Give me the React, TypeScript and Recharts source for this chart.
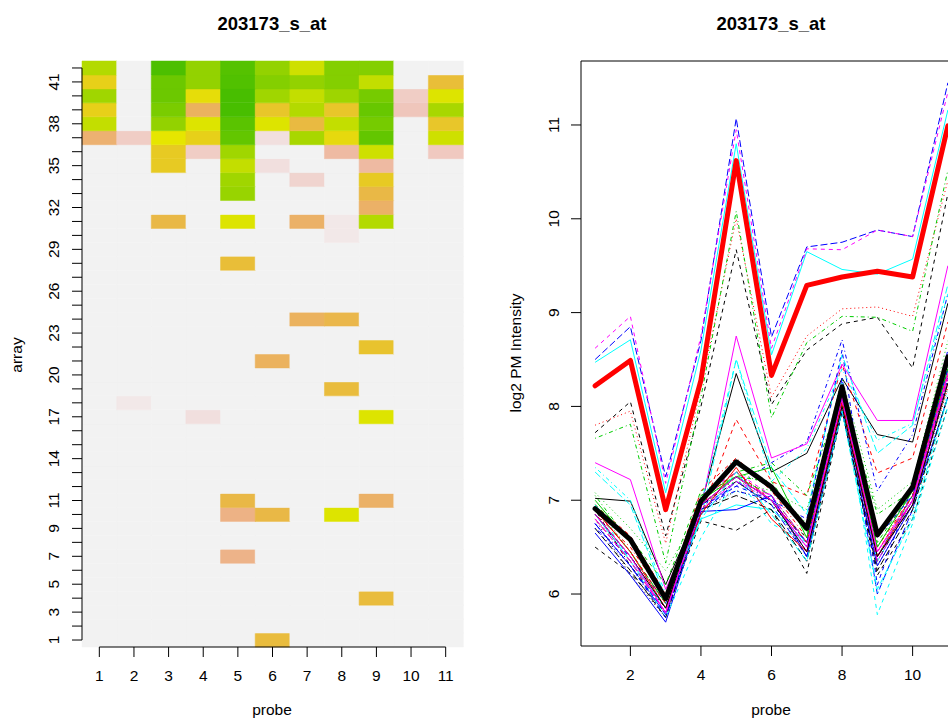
import React from 'react';
import {
  BarChart,
  Bar,
  Cell,
  XAxis,
  YAxis,
  ReferenceLine,
  LineChart,
  Line,
  ReferenceArea
} from 'recharts';

const chartTitle = '203173_s_at';
const probes = [1, 2, 3, 4, 5, 6, 7, 8, 9, 10, 11];
const arrayIds = [
  1, 2, 3, 4, 5, 6, 7, 8, 9, 10, 11, 12, 13, 14, 15, 16, 17, 18, 19, 20, 21,
  22, 23, 24, 25, 26, 27, 28, 29, 30, 31, 32, 33, 34, 35, 36, 37, 38, 39, 40, 41, 42
];
const arrayTickLabels = [1, 3, 5, 7, 9, 11, 14, 17, 20, 23, 26, 29, 32, 35, 38, 41];
const intensityTicks = [6, 7, 8, 9, 10, 11];
const probeTicks = [2, 4, 6, 8, 10];

// heatmap cell values (0 = green end of terrain colours, 1 = light grey), arrays 1..42 per probe
const heatProbe1 = [1, 1, 1, 1, 1, 1, 1, 1, 1, 1, 1, 1, 1, 1, 1, 1, 1, 1, 1, 1, 1, 1, 1, 1, 1, 1, 1, 1, 1, 1, 1, 1, 1, 1, 1, 1, 0.74, 0.44, 0.555, 0.375, 0.555, 0.41];
const heatProbe2 = [1, 1, 1, 1, 1, 1, 1, 1, 1, 1, 1, 1, 1, 1, 1, 1, 1, 0.98, 1, 1, 1, 1, 1, 1, 1, 1, 1, 1, 1, 1, 1, 1, 1, 1, 1, 1, 0.91, 1, 1, 1, 1, 1];
const heatProbe3 = [1, 1, 1, 1, 1, 1, 1, 1, 1, 1, 1, 1, 1, 1, 1, 1, 1, 1, 1, 1, 1, 1, 1, 1, 1, 1, 1, 1, 1, 1, 0.65, 1, 1, 1, 0.575, 0.575, 0.5, 0.35, 0.3, 0.27, 0.27, 0.2];
const heatProbe4 = [1, 1, 1, 1, 1, 1, 1, 1, 1, 1, 1, 1, 1, 1, 1, 1, 0.96, 1, 1, 1, 1, 1, 1, 1, 1, 1, 1, 1, 1, 1, 1, 1, 1, 1, 1, 0.91, 0.555, 0.485, 0.7, 0.52, 0.35, 0.35];
const heatProbe5 = [1, 1, 1, 1, 1, 1, 0.79, 1, 1, 0.78, 0.65, 1, 1, 1, 1, 1, 1, 1, 1, 1, 1, 1, 1, 1, 1, 1, 1, 0.62, 1, 1, 0.485, 1, 0.36, 0.375, 0.44, 0.375, 0.25, 0.23, 0.19, 0.19, 0.21, 0.22];
const heatProbe6 = [0.63, 1, 1, 1, 1, 1, 1, 1, 1, 0.65, 1, 1, 1, 1, 1, 1, 1, 1, 1, 1, 0.7, 1, 1, 1, 1, 1, 1, 1, 1, 1, 1, 1, 1, 1, 0.96, 1, 0.96, 0.485, 0.59, 0.375, 0.32, 0.35];
const heatProbe7 = [1, 1, 1, 1, 1, 1, 1, 1, 1, 1, 1, 1, 1, 1, 1, 1, 1, 1, 1, 1, 1, 1, 1, 0.7, 1, 1, 1, 1, 1, 1, 0.72, 1, 1, 0.93, 1, 1, 0.39, 0.64, 0.41, 0.44, 0.35, 0.46];
const heatProbe8 = [1, 1, 1, 1, 1, 1, 1, 1, 1, 0.485, 1, 1, 1, 1, 1, 1, 1, 1, 0.63, 1, 1, 1, 1, 0.66, 1, 1, 1, 1, 1, 0.98, 0.98, 1, 1, 1, 1, 0.84, 0.53, 0.44, 0.59, 0.37, 0.32, 0.32];
const heatProbe9 = [1, 1, 1, 0.63, 1, 1, 1, 1, 1, 1, 0.72, 1, 1, 1, 1, 1, 0.485, 1, 1, 1, 1, 0.6, 1, 1, 1, 1, 1, 1, 1, 1, 0.41, 0.72, 0.65, 0.575, 0.84, 0.46, 0.25, 0.29, 0.26, 0.29, 0.44, 0.32];
const heatProbe10 = [1, 1, 1, 1, 1, 1, 1, 1, 1, 1, 1, 1, 1, 1, 1, 1, 1, 1, 1, 1, 1, 1, 1, 1, 1, 1, 1, 1, 1, 1, 1, 1, 1, 1, 1, 1, 1, 1, 0.89, 0.91, 1, 1];
const heatProbe11 = [1, 1, 1, 1, 1, 1, 1, 1, 1, 1, 1, 1, 1, 1, 1, 1, 1, 1, 1, 1, 1, 1, 1, 1, 1, 1, 1, 1, 1, 1, 1, 1, 1, 1, 1, 0.9, 0.46, 0.59, 0.39, 0.485, 0.62, 1];
const heatByProbe = [heatProbe1, heatProbe2, heatProbe3, heatProbe4, heatProbe5, heatProbe6, heatProbe7, heatProbe8, heatProbe9, heatProbe10, heatProbe11];

// log2 PM intensity per array, probes 1..11
const lowArrays = [
  [7.02, 6.99, 6.10, 6.95, 8.35, 7.30, 7.50, 8.30, 7.70, 7.62, 9.10],
  [6.95, 6.62, 6.00, 6.85, 7.86, 7.20, 7.05, 8.45, 7.29, 7.45, 8.90],
  [7.08, 6.70, 6.25, 6.90, 7.30, 7.15, 6.75, 8.30, 6.90, 7.20, 8.70],
  [6.70, 6.40, 5.90, 6.95, 7.15, 7.40, 7.62, 8.71, 7.10, 7.70, 9.20],
  [7.30, 6.95, 5.95, 6.80, 8.50, 7.35, 6.85, 8.55, 7.50, 7.80, 9.30],
  [7.40, 7.22, 6.05, 6.90, 8.75, 7.45, 7.60, 8.45, 7.85, 7.85, 9.50],
  [6.50, 6.22, 5.80, 6.78, 6.68, 6.90, 6.22, 7.95, 6.20, 6.80, 8.00],
  [6.80, 6.40, 5.85, 7.00, 7.25, 7.00, 6.50, 8.00, 6.40, 7.00, 8.20],
  [7.05, 6.55, 5.95, 7.00, 7.30, 7.40, 7.05, 8.15, 6.85, 7.10, 8.50],
  [6.75, 6.30, 5.78, 6.85, 7.20, 6.95, 6.40, 8.30, 6.00, 6.90, 8.30],
  [6.85, 6.35, 5.85, 6.80, 6.95, 6.90, 6.55, 8.05, 6.35, 7.00, 8.40],
  [6.90, 6.45, 5.90, 7.05, 7.30, 7.05, 6.45, 8.10, 6.45, 7.05, 8.45],
  [6.80, 6.20, 5.75, 6.90, 7.10, 7.00, 6.40, 8.00, 6.30, 6.95, 8.20],
  [6.85, 6.50, 5.95, 7.10, 7.45, 7.10, 6.60, 8.10, 6.50, 7.05, 8.35],
  [6.90, 6.45, 5.90, 7.05, 7.25, 7.05, 6.55, 8.05, 6.40, 7.05, 8.40],
  [6.65, 6.20, 5.70, 6.88, 6.90, 7.05, 6.40, 7.95, 6.30, 6.95, 8.10],
  [6.95, 6.35, 5.75, 6.60, 7.25, 6.75, 6.55, 8.25, 5.78, 6.75, 8.00],
  [6.80, 6.40, 5.80, 6.95, 7.20, 7.00, 6.50, 8.10, 6.45, 7.00, 8.30],
  [6.90, 6.30, 5.85, 6.95, 7.20, 6.95, 6.60, 8.05, 6.35, 7.00, 8.30],
  [6.80, 6.35, 5.80, 6.95, 7.25, 7.00, 6.55, 8.00, 6.40, 6.95, 8.25],
  [7.00, 6.55, 5.95, 7.00, 7.25, 7.35, 6.60, 8.15, 6.50, 7.10, 8.40],
  [6.75, 6.30, 5.80, 6.90, 7.15, 7.00, 6.80, 8.60, 6.10, 7.15, 8.60],
  [6.80, 6.40, 5.75, 6.85, 7.10, 6.95, 6.50, 8.00, 6.00, 6.85, 8.15],
  [6.85, 6.40, 5.80, 7.00, 7.30, 7.00, 6.45, 8.05, 6.40, 7.05, 8.35],
  [6.70, 6.25, 5.75, 6.90, 7.05, 6.90, 6.35, 7.95, 6.25, 6.90, 8.10],
  [6.90, 6.45, 5.85, 6.85, 7.35, 6.80, 6.45, 8.05, 6.40, 7.00, 8.35],
  [6.95, 6.60, 6.10, 7.10, 7.25, 7.20, 6.65, 8.15, 6.55, 7.10, 8.45],
  [6.70, 6.30, 5.80, 6.90, 7.20, 7.00, 6.50, 8.10, 6.40, 7.00, 8.30],
  [7.35, 7.00, 6.00, 6.95, 8.50, 7.20, 7.55, 8.40, 7.64, 7.82, 9.20],
  [6.80, 6.35, 5.80, 6.90, 7.20, 7.05, 6.55, 8.05, 6.35, 7.00, 8.30],
  [6.85, 6.40, 5.85, 6.95, 7.25, 7.00, 6.45, 8.00, 6.40, 6.95, 8.25],
  [6.90, 6.45, 5.90, 7.00, 7.30, 7.00, 6.55, 8.05, 6.45, 7.05, 8.35],
  [6.95, 6.45, 5.90, 7.05, 7.20, 7.10, 6.90, 8.15, 6.50, 7.10, 8.45],
  [6.75, 6.30, 5.75, 6.95, 7.10, 7.00, 6.55, 8.10, 6.60, 7.05, 8.40],
  [6.95, 6.55, 5.95, 6.80, 7.30, 6.85, 6.35, 7.95, 6.05, 6.80, 8.10],
  [6.85, 6.40, 5.80, 6.95, 7.25, 7.00, 6.50, 8.10, 6.45, 7.00, 8.35]
];
const highArrays = [
  [7.72, 8.05, 6.62, 8.00, 9.67, 8.02, 8.60, 8.88, 8.95, 8.41, 10.27],
  [7.80, 7.95, 6.54, 8.20, 10.00, 8.10, 8.75, 9.04, 9.06, 8.96, 10.41],
  [7.66, 7.81, 6.33, 8.10, 10.08, 7.88, 8.68, 8.96, 8.95, 8.80, 10.52],
  [8.50, 8.85, 7.25, 8.70, 11.07, 8.74, 9.70, 9.75, 9.88, 9.81, 11.45],
  [8.47, 8.71, 7.08, 8.60, 10.80, 8.55, 9.65, 9.46, 9.41, 9.57, 11.16],
  [8.62, 8.96, 7.18, 8.75, 10.95, 8.62, 9.68, 9.67, 9.88, 9.81, 11.35]
];
const highGroupLine = [8.22, 8.49, 6.90, 8.28, 10.62, 8.33, 9.29, 9.38, 9.44, 9.38, 10.99];
const lowGroupLine = [6.91, 6.58, 5.95, 6.99, 7.41, 7.14, 6.70, 8.21, 6.63, 7.14, 8.53];

const rColors = ['#000000', '#FF0000', '#00CD00', '#0000FF', '#00FFFF', '#FF00FF'];
const rDashes = [undefined, '4 4', '1 3', '1 3 4 3', '7 3'];

const font = '"Liberation Sans", Arial, Helvetica, sans-serif';
const labelSize = 15.5;

const hsv = (h: number, s: number, v: number) => {
  const c = v * s;
  const hp = h / 60;
  const x = c * (1 - Math.abs((hp % 2) - 1));
  let r = 0, g = 0, b = 0;
  if (hp < 1) { r = c; g = x; }
  else if (hp < 2) { r = x; g = c; }
  else { g = c; b = x; }
  const m = v - c;
  const hex = (n: number) => Math.round((n + m) * 255).toString(16).padStart(2, '0');
  return `#${hex(r)}${hex(g)}${hex(b)}`;
};

// R terrain.colors as a continuous scale
const terrain = (t: number) => {
  if (t <= 0.5) {
    const f = t / 0.5;
    return hsv(120 - 60 * f, 1, 0.65 + 0.25 * f);
  }
  const f = (t - 0.5) / 0.5;
  return hsv(60 - 60 * f, 1 - f, 0.9 + 0.05 * f);
};

const heatData = probes.map((p) => {
  const row: any = { probe: String(p) };
  arrayIds.forEach((a) => { row[`a${a}`] = 1; });
  return row;
});

const allArrays = [...lowArrays, ...highArrays];
const lineData = probes.map((p, j) => {
  const row: any = { probe: p, hiMean: highGroupLine[j], loMean: lowGroupLine[j] };
  allArrays.forEach((vals, i) => { row[`a${i + 1}`] = vals[j]; });
  return row;
});

const HeatYTick = (props: any) => {
  const { x, y, payload } = props;
  const label = payload.value + 0.5;
  if (!arrayTickLabels.includes(label)) return null;
  const cx = x - 18.5;
  return (
    <text x={cx} y={y} transform={`rotate(-90 ${cx} ${y})`} textAnchor="middle"
      dominantBaseline="central" fontSize={labelSize} fontFamily={font} fill="#000">
      {label}
    </text>
  );
};

const LineYTick = (props: any) => {
  const { x, y, payload } = props;
  const cx = x - 17.5;
  return (
    <text x={cx} y={y} transform={`rotate(-90 ${cx} ${y})`} textAnchor="middle"
      dominantBaseline="central" fontSize={labelSize} fontFamily={font} fill="#000">
      {payload.value}
    </text>
  );
};

const textBase: React.CSSProperties = {
  position: 'absolute',
  fontFamily: font,
  color: '#000',
  whiteSpace: 'nowrap',
  lineHeight: 1
};

const tickLineStyle = { stroke: '#000', strokeWidth: 1 };

const App: React.FC = () => {
  return (
    <div style={{ position: 'fixed', left: 0, top: 0, width: 948, height: 721, overflow: 'hidden', background: '#fff' }}>
      <div style={{ position: 'absolute', left: 0, top: 0 }}>
        <BarChart
          width={480}
          height={700}
          data={heatData}
          margin={{ top: 61, right: 17, bottom: 13, left: 32 }}
          barCategoryGap={0}
          barGap={0}
        >
          <XAxis
            dataKey="probe"
            interval={0}
            height={40}
            tickSize={10}
            tickMargin={13}
            axisLine={false}
            tickLine={tickLineStyle}
            stroke="#000"
            tick={{ fontSize: labelSize, fontFamily: font, fill: '#000' }}
          />
          <YAxis
            type="number"
            domain={[0, 42]}
            ticks={arrayIds.map((a) => a - 0.5)}
            interval={0}
            width={50}
            tickSize={10}
            tickMargin={0}
            axisLine={false}
            tickLine={tickLineStyle}
            stroke="#000"
            tick={<HeatYTick />}
          />
          {arrayIds.map((a) => (
            <Bar key={a} dataKey={`a${a}`} stackId="h" isAnimationActive={false}>
              {probes.map((p, j) => {
                const c = terrain(heatByProbe[j][a - 1]);
                return <Cell key={p} fill={c} stroke={c} strokeWidth={0.5} />;
              })}
            </Bar>
          ))}
          <ReferenceLine position="start" segment={[{ x: '1', y: 0.5 }, { x: '1', y: 41.5 }]} stroke="#000" />
          <ReferenceLine position="middle" segment={[{ x: '1', y: 0 }, { x: '11', y: 0 }]} stroke="#000" />
        </BarChart>
      </div>

      <div style={{ position: 'absolute', left: 500, top: 0 }}>
        <LineChart
          width={500}
          height={700}
          data={lineData}
          margin={{ top: 61, right: 38, bottom: 14, left: 31 }}
        >
          <XAxis
            dataKey="probe"
            type="number"
            domain={[0.6, 11.4]}
            allowDataOverflow
            ticks={probeTicks}
            interval={0}
            height={40}
            tickSize={10}
            tickMargin={13}
            axisLine={false}
            tickLine={tickLineStyle}
            stroke="#000"
            tick={{ fontSize: labelSize, fontFamily: font, fill: '#000' }}
          />
          <YAxis
            type="number"
            domain={[5.446, 11.682]}
            allowDataOverflow
            ticks={intensityTicks}
            interval={0}
            width={50}
            tickSize={10}
            tickMargin={0}
            axisLine={false}
            tickLine={tickLineStyle}
            stroke="#000"
            tick={<LineYTick />}
          />
          {allArrays.map((_, i) => (
            <Line
              key={i}
              dataKey={`a${i + 1}`}
              type="linear"
              dot={false}
              stroke={rColors[i % 6]}
              strokeWidth={1}
              strokeDasharray={rDashes[i % 5]}
              isAnimationActive={false}
            />
          ))}
          <Line dataKey="hiMean" type="linear" dot={false} stroke="#FF0000" strokeWidth={5}
            strokeLinejoin="round" strokeLinecap="round" isAnimationActive={false} />
          <Line dataKey="loMean" type="linear" dot={false} stroke="#000000" strokeWidth={5}
            strokeLinejoin="round" strokeLinecap="round" isAnimationActive={false} />
          <ReferenceArea x1={0.6} x2={11.4} y1={5.446} y2={11.682} fill="none" stroke="#000" strokeWidth={1} />
        </LineChart>
      </div>

      <div style={{ ...textBase, left: 272, top: 24, transform: 'translate(-50%, -50%)', fontSize: 18.5, fontWeight: 'bold' }}>{chartTitle}</div>
      <div style={{ ...textBase, left: 771, top: 24, transform: 'translate(-50%, -50%)', fontSize: 18.5, fontWeight: 'bold' }}>{chartTitle}</div>
      <div style={{ ...textBase, left: 272, top: 710, transform: 'translate(-50%, -50%)', fontSize: labelSize }}>probe</div>
      <div style={{ ...textBase, left: 771, top: 710, transform: 'translate(-50%, -50%)', fontSize: labelSize }}>probe</div>
      <div style={{ ...textBase, left: 17, top: 355, transform: 'translate(-50%, -50%) rotate(-90deg)', fontSize: labelSize }}>array</div>
      <div style={{ ...textBase, left: 515.5, top: 353, transform: 'translate(-50%, -50%) rotate(-90deg)', fontSize: labelSize }}>log2 PM Intensity</div>
    </div>
  );
};

export default App;
